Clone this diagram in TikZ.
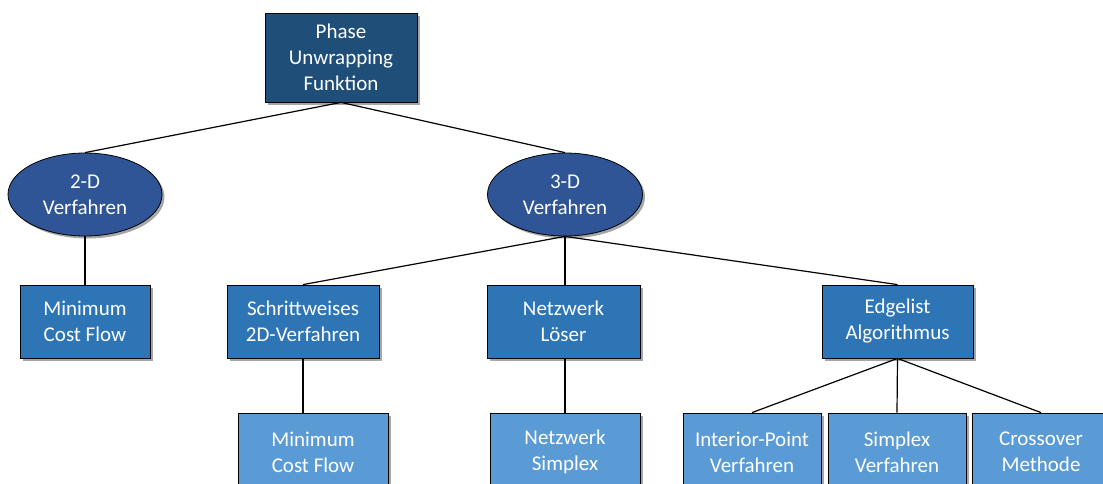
\documentclass[tikz,border=0pt]{standalone}
\usepackage{fontspec}
\setmainfont{Carlito}
\usetikzlibrary{shapes.geometric,shadows}
\definecolor{cTop}{HTML}{1F4E79}
\definecolor{cEll}{HTML}{2F5597}
\definecolor{cMid}{HTML}{2E75B6}
\definecolor{cLow}{HTML}{5B9BD5}
\tikzset{
  base/.style={draw=black, line width=0.8pt, text=white, align=center, inner sep=0pt,
    font=\fontsize{21}{26}\selectfont,
    drop shadow={shadow xshift=2.5pt, shadow yshift=-2.5pt, opacity=0.35, fill=black}},
  topbox/.style={base, rectangle, fill=cTop},
  ellnode/.style={base, ellipse, fill=cEll},
  midbox/.style={base, rectangle, fill=cMid},
  lowbox/.style={base, rectangle, fill=cLow},
  conn/.style={draw=black, line width=1.2pt}
}
\begin{document}
\begin{tikzpicture}[x=1pt,y=-1pt]
\useasboundingbox (0,0) rectangle (1103,483);
\clip (0,0) rectangle (1103,483);
\fill[white] (0,0) rectangle (1103,483);
% nodes
\node[topbox, minimum width=152pt, minimum height=89pt] (top) at (341,57.5) {Phase\\Unwrapping\\Funktion};
\node[ellnode, minimum width=154pt, minimum height=83pt] (d2) at (85,194.5) {2-D\\Verfahren};
\node[ellnode, minimum width=155pt, minimum height=83pt] (d3) at (565,194.5) {3-D\\Verfahren};
\node[midbox, minimum width=130pt, minimum height=73pt] (mcfa) at (85,321.5) {Minimum\\Cost Flow};
\node[midbox, minimum width=152pt, minimum height=73pt] (schritt) at (303,321.5) {Schrittweises\\2D-Verfahren};
\node[midbox, minimum width=153pt, minimum height=73pt] (loeser) at (563.5,321.5) {Netzwerk\\Löser};
\node[midbox, minimum width=151pt, minimum height=73pt] (edge) at (897.5,321.5) {Edgelist\\Algorithmus};
\node[lowbox, minimum width=150pt, minimum height=78pt] (mcfb) at (313,452) {Minimum\\Cost Flow};
\node[lowbox, minimum width=150pt, minimum height=78pt] (nsimp) at (565,452) {Netzwerk\\Simplex};
\node[lowbox, minimum width=138pt, minimum height=78pt] (ipv) at (752,452) {Interior-Point\\Verfahren};
\node[lowbox, minimum width=138pt, minimum height=78pt] (simv) at (897,452) {Simplex\\Verfahren};
\node[lowbox, minimum width=138pt, minimum height=78pt] (cross) at (1041,452) {Crossover\\Methode};
% connectors
\draw[conn] (top.south) -- (d2.north);
\draw[conn] (top.south) -- (d3.north);
\draw[conn] (d2.south) -- (mcfa.north);
\draw[conn] (d3.south) -- (schritt.north);
\draw[conn] (d3.south) -- (d3.south |- loeser.north);
\draw[conn] (d3.south) -- (edge.north);
\draw[conn] (schritt.south) -- (schritt.south |- mcfb.north);
\draw[conn] (d3.south |- loeser.south) -- (d3.south |- nsimp.north);
\draw[conn] (edge.south) -- (ipv.north);
\draw[conn] (edge.south) -- (simv.north);
\draw[conn] (edge.south) -- (cross.north);
\end{tikzpicture}
\end{document}
